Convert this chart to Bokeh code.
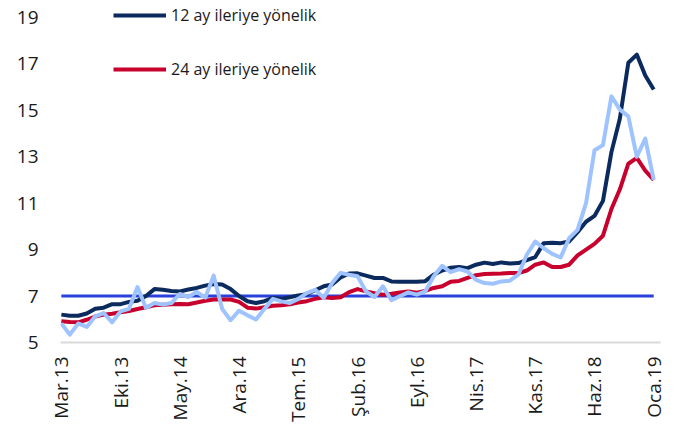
import math
from bokeh.plotting import figure
from bokeh.models import FixedTicker, Legend, LegendItem
from bokeh.embed import file_html
from bokeh.resources import INLINE

# ---- data (monthly, Mar.13 .. Oca.19) ----
tick_labels = ["Mar.13", "Eki.13", "May.14", "Ara.14", "Tem.15", "Şub.16",
               "Eyl.16", "Nis.17", "Kas.17", "Haz.18", "Oca.19"]
tick_step = 7

exp_12 = [6.2, 6.15, 6.15, 6.25, 6.45, 6.5, 6.65, 6.65, 6.75, 6.8,
          7.0, 7.3, 7.27, 7.22, 7.2, 7.28, 7.35, 7.45, 7.52, 7.5,
          7.3, 7.0, 6.78, 6.7, 6.78, 6.92, 6.88, 6.95, 7.03, 7.08,
          7.25, 7.42, 7.5, 7.8, 7.97, 7.98, 7.88, 7.78, 7.78, 7.63,
          7.62, 7.62, 7.62, 7.64, 7.92, 8.1, 8.22, 8.25, 8.2, 8.35,
          8.44, 8.38, 8.45, 8.4, 8.42, 8.55, 8.68, 9.28, 9.3, 9.28,
          9.35, 9.75, 10.2, 10.45, 11.1, 13.2, 14.65, 17.05, 17.4, 16.5, 15.9]

exp_24 = [5.92, 5.88, 5.87, 5.98, 6.12, 6.2, 6.24, 6.3, 6.36, 6.44,
          6.52, 6.6, 6.63, 6.65, 6.66, 6.65, 6.72, 6.8, 6.85, 6.85,
          6.85, 6.75, 6.5, 6.46, 6.52, 6.58, 6.6, 6.65, 6.72, 6.78,
          6.88, 6.95, 6.92, 6.95, 7.17, 7.3, 7.2, 7.12, 7.06, 7.1,
          7.15, 7.2, 7.14, 7.22, 7.35, 7.42, 7.62, 7.65, 7.78, 7.9,
          7.95, 7.96, 7.97, 7.99, 7.99, 8.1, 8.35, 8.45, 8.25, 8.25,
          8.35, 8.75, 9.0, 9.25, 9.6, 10.75, 11.6, 12.7, 12.95, 12.4, 12.0]

third = [5.82, 5.34, 5.82, 5.67, 6.13, 6.27, 5.87, 6.34, 6.45, 7.39,
         6.49, 6.7, 6.63, 6.7, 7.09, 6.96, 7.18, 6.93, 7.88, 6.45,
         5.96, 6.37, 6.17, 5.99, 6.45, 6.88, 6.77, 6.7, 6.88, 7.13,
         7.27, 6.92, 7.56, 8.0, 7.92, 7.85, 7.2, 6.96, 7.42, 6.82,
         6.99, 7.16, 7.06, 7.2, 7.85, 8.3, 8.03, 8.16, 8.06, 7.7,
         7.56, 7.53, 7.63, 7.66, 7.92, 8.78, 9.35, 9.06, 8.82, 8.66,
         9.49, 9.85, 11.0, 13.28, 13.5, 15.6, 15.03, 14.74, 13.0, 13.78, 12.0]

target = 7.0
y_ticks = [5, 7, 9, 11, 13, 15, 17, 19]

n = len(exp_12)
x = list(range(n))
tick_pos = [i * tick_step for i in range(len(tick_labels))]

FONT = "Open Sans"

p = figure(width=675, height=424, output_backend="svg", toolbar_location=None,
           x_range=(-0.1, n - 1 + 0.8), y_range=(5, 19.515),
           min_border_left=60, min_border_right=15, min_border_top=5,
           min_border_bottom=81)
p.outline_line_color = None
p.xgrid.grid_line_color = None
p.ygrid.grid_line_color = None
p.background_fill_color = "white"
p.border_fill_color = "white"

# target line
p.line(x, [target] * n, line_color="#2b3fdd", line_width=3)
r24 = p.line(x, exp_24, line_color="#c8002d", line_width=4, line_join="round")
r12 = p.line(x, exp_12, line_color="#0b2a5e", line_width=4, line_join="round")
p.line(x, third, line_color="#9ec3ff", line_width=4, line_join="round")

# axes
xa = p.xaxis[0]
xa.ticker = FixedTicker(ticks=tick_pos)
xa.major_label_overrides = {pos: lab for pos, lab in zip(tick_pos, tick_labels)}
xa.major_label_orientation = math.pi / 2
xa.major_tick_line_color = None
xa.minor_tick_line_color = None
xa.major_tick_out = 0
xa.major_tick_in = 0
xa.axis_line_color = "#d9d9d9"
xa.axis_line_width = 2
xa.major_label_text_font = FONT
xa.major_label_text_font_size = "19px"
xa.major_label_text_color = "#1a1a1a"
xa.major_label_standoff = 14

ya = p.yaxis[0]
ya.ticker = FixedTicker(ticks=y_ticks)
ya.axis_line_color = None
ya.major_tick_line_color = None
ya.minor_tick_line_color = None
ya.major_tick_out = 0
ya.major_tick_in = 0
ya.major_label_text_font = FONT
ya.major_label_text_font_size = "19px"
ya.major_label_text_color = "#1a1a1a"
ya.major_label_standoff = 22

legend = Legend(items=[LegendItem(label="12 ay ileriye yönelik", renderers=[r12]),
                       LegendItem(label="24 ay ileriye yönelik", renderers=[r24])],
                location=(53, 262), orientation="vertical")
legend.background_fill_alpha = 0
legend.border_line_color = None
legend.padding = 0
legend.margin = 0
legend.spacing = 32
legend.glyph_width = 53
legend.glyph_height = 20
legend.label_height = 20
legend.label_standoff = 5
legend.label_text_font = FONT
legend.label_text_font_size = "16px"
legend.label_text_color = "#1a1a1a"
p.add_layout(legend)

open("out.html", "w").write(file_html(p, INLINE))
